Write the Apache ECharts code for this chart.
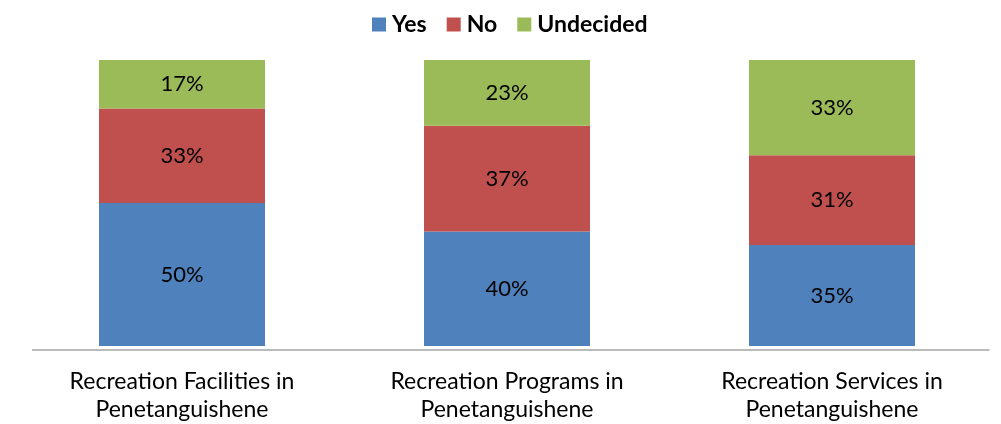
<!DOCTYPE html>
<html>
<head>
<meta charset="utf-8">
<script src="https://cdn.jsdelivr.net/npm/echarts@6/dist/echarts.min.js"></script>
<style>
  html, body { margin: 0; padding: 0; background: #fff; }
  #chart { width: 1001px; height: 424px; }
</style>
</head>
<body>
<div id="chart"></div>
<script>
// Survey answers per recreation topic (percent of respondents)
const categories = [
  'Recreation Facilities in\nPenetanguishene',
  'Recreation Programs in\nPenetanguishene',
  'Recreation Services in\nPenetanguishene'
];
const yesValues = [50, 40, 35];
const noValues = [33, 37, 31];
const undecidedValues = [17, 23, 33];

const seriesNames = ['Yes', 'No', 'Undecided'];
const seriesColors = ['#4F81BD', '#C0504D', '#9BBB59'];
const seriesValues = [yesValues, noValues, undecidedValues];

// 100% stacked: each bar's segments are shares of that bar's total
const totals = categories.map((_, i) => seriesValues.reduce((s, arr) => s + arr[i], 0));

const FONT = 'Lato, "Open Sans", sans-serif';

const chart = echarts.init(document.getElementById('chart'), null, { renderer: 'canvas' });

chart.setOption({
  animation: false,
  textStyle: { fontFamily: FONT },
  legend: {
    top: 8,
    left: 367,
    padding: [5, 5, 5, 5],
    itemWidth: 14,
    itemHeight: 14,
    itemGap: 20,
    icon: 'rect',
    textStyle: { fontFamily: FONT, fontWeight: 'bold', fontSize: 23, color: '#000', padding: [0, 0, 0, 1] },
    data: seriesNames
  },
  grid: { left: 19.5, width: 975, top: 60, height: 289 },
  xAxis: {
    type: 'category',
    data: categories,
    axisLine: { show: false },
    axisTick: { show: false },
    axisLabel: {
      margin: 22,
      fontFamily: FONT,
      fontSize: 23,
      lineHeight: 28,
      color: '#000',
      interval: 0
    }
  },
  yAxis: {
    type: 'value',
    min: 0,
    max: 100,
    show: false,
    splitLine: { show: false }
  },
  series: seriesNames.map((name, k) => ({
    name,
    type: 'bar',
    stack: 'total',
    barWidth: 166,
    itemStyle: { color: seriesColors[k] },
    label: {
      show: true,
      position: 'inside',
      fontFamily: FONT,
      fontSize: 22,
      color: '#000',
      formatter: p => seriesValues[k][p.dataIndex] + '%'
    },
    data: seriesValues[k].map((v, i) => v / totals[i] * 100)
  })),
  graphic: [{
    type: 'line',
    shape: { x1: 32, y1: 350, x2: 989.5, y2: 350 },
    style: { stroke: '#BBBBBB', lineWidth: 2 },
    z: 10
  }]
});
</script>
</body>
</html>
